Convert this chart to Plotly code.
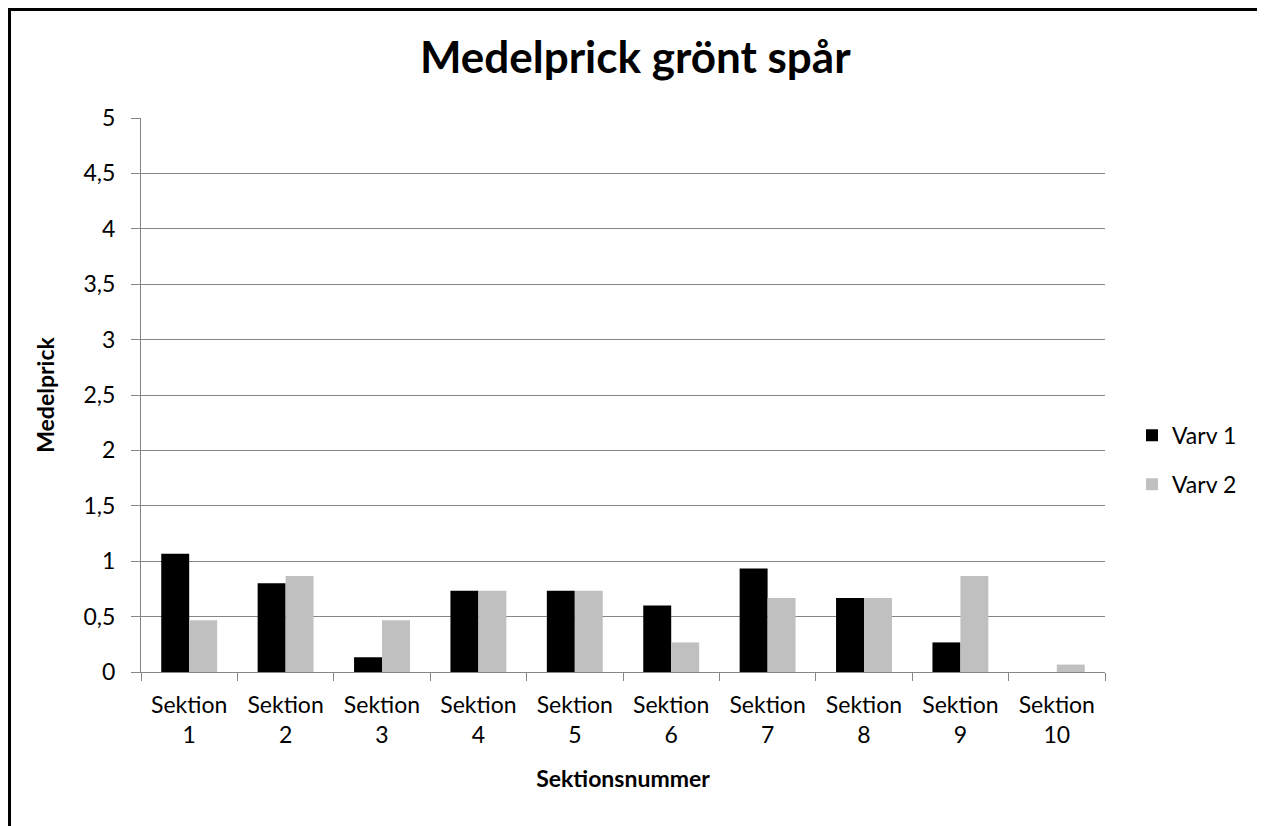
import plotly.graph_objects as go

sektioner = ["Sektion<br>1", "Sektion<br>2", "Sektion<br>3", "Sektion<br>4", "Sektion<br>5",
             "Sektion<br>6", "Sektion<br>7", "Sektion<br>8", "Sektion<br>9", "Sektion<br>10"]
varv_1 = [1.067, 0.8, 0.133, 0.733, 0.733, 0.6, 0.933, 0.667, 0.267, 0]
varv_2 = [0.467, 0.867, 0.467, 0.733, 0.733, 0.267, 0.667, 0.667, 0.867, 0.067]

font = "Lato, 'Open Sans', sans-serif"

fig = go.Figure()
fig.add_bar(x=sektioner, y=varv_1, name="Varv 1", marker_color="#000000",
            marker_line_width=0, legendgroup="v1")
fig.add_bar(x=sektioner, y=varv_2, name="Varv 2", marker_color="#c0c0c0",
            marker_line_width=0, legendgroup="v2")

# page body has an 8px margin, so the figure is a bit smaller than the window
fig.update_layout(
    width=1257, height=818,
    margin=dict(l=133, r=160, t=110, b=154),
    paper_bgcolor="white", plot_bgcolor="white",
    separators=", ",
    bargap=0.42, bargroupgap=0,
    font=dict(family=font, color="#000000"),
    title=dict(text="<b>Medelprick grönt spår</b>", x=0.499, xanchor="center",
               xref="container", y=0.939, yanchor="middle",
               font=dict(size=44, family=font)),
    legend=dict(x=1.028, y=0.383, xanchor="left", yanchor="middle",
                font=dict(size=23), traceorder="grouped", tracegroupgap=16),
    shapes=[dict(type="rect", xref="paper", yref="paper",
                 x0=-0.1364, x1=1.1644, y0=-0.30, y1=1.1959,
                 line=dict(color="black", width=3))],
)
fig.update_xaxes(
    type="category", tickson="boundaries", ticks="outside", ticklen=8,
    tickcolor="#868686", showline=True, linecolor="#868686", linewidth=1,
    tickfont=dict(size=23), showgrid=False, ticklabelstandoff=12,
    title=dict(text="<b>Sektionsnummer</b>", font=dict(size=23), standoff=24),
)
fig.update_yaxes(
    range=[0, 5], dtick=0.5, ticks="outside", ticklen=9, tickcolor="#868686",
    showline=True, linecolor="#868686", linewidth=1,
    showgrid=True, gridcolor="#868686", gridwidth=1, zeroline=False,
    tickfont=dict(size=23), ticklabelstandoff=11,
    title=dict(text="<b>Medelprick</b>", font=dict(size=23), standoff=22),
)

fig.write_html("out.html")
